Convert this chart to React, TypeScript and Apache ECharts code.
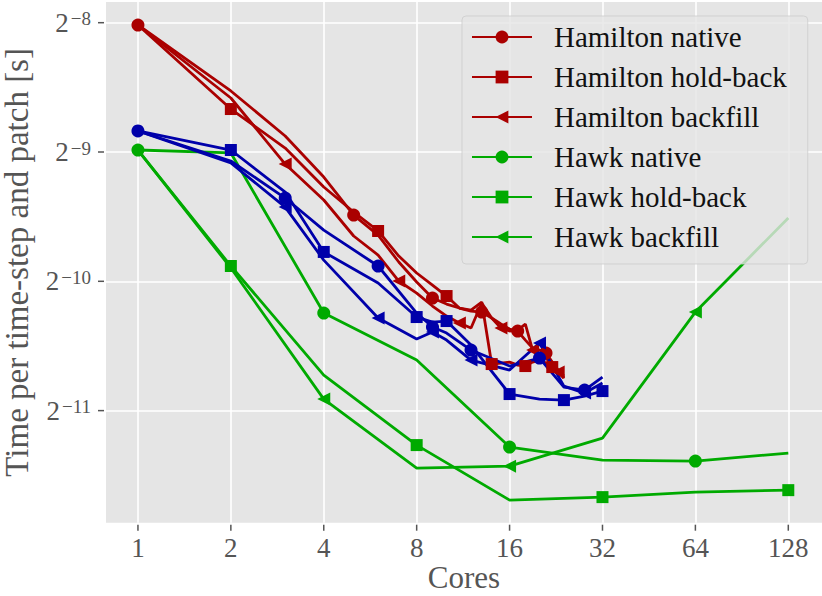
import React, { useEffect, useRef } from "react";
import * as echarts from "echarts";

// ---------- data (seconds per time-step and patch) ----------
const hamiltonCores = [1, 2, 3, 4, 5, 6, 7, 8, 9, 10, 11, 12, 13, 14, 15, 16, 17, 18, 19, 20, 21, 22, 23, 24];
const hamiltonNative = [
  0.003858, 0.002709, 0.002128, 0.001708, 0.001393, 0.001251, 0.001083, 0.0009728, 0.0008928, 0.0008645,
  0.0008462, 0.0008326, 0.0008282, 0.000802, 0.0007766, 0.000756, 0.000748, 0.0007127, 0.0006828, 0.0006755,
  0.0006648, 0.0006334, 0.0006068, 0.0005876,
];
const hamiltonHoldBack = [
  0.003858, 0.002459, 0.001995, 0.001619, 0.001416, 0.001279, 0.001118, 0.001021, 0.0009572, 0.0009024,
  0.0008462, 0.0008371, 0.0008738, 0.0006267, 0.00063, 0.0006334, 0.0006233, 0.00062, 0.0006334, 0.0006402,
  0.00063, 0.0006167, 0.0006004, 0.0005814,
];
const hamiltonBackfill = [
  0.003858, 0.002609, 0.001831, 0.00151, 0.001245, 0.001124, 0.000978, 0.000917, 0.0008553, 0.0008106,
  0.0007808, 0.0007601, 0.0008692, 0.000802, 0.0007601, 0.000748, 0.000752, 0.0007766, 0.0006755, 0.0006576,
  0.0006472, 0.0006233, 0.0006004, 0.0005814,
];

const hawkCores = [1, 2, 4, 8, 16, 32, 64, 128];
const hawkNative = [0.001974, 0.001943, 0.0008238, 0.0006402, 0.0004016, 0.0003745, 0.0003725, 0.0003888];
const hawkHoldBack = [0.001974, 0.00106, 0.0005907, 0.0004059, 0.0003022, 0.0003071, 0.0003155, 0.0003188];
const hawkBackfill = [0.001974, 0.001049, 0.0005194, 0.0003588, 0.0003626, 0.0004214, 0.0008282, 0.001371];

const thirdCores = [1, 2, 3, 4, 6, 8, 9, 10, 12, 16, 20, 24, 28, 32];
const thirdNative = [
  0.002186, 0.001861, 0.001526, 0.001285, 0.00106, 0.0008238, 0.0007642, 0.00074, 0.0006755, 0.00062,
  0.0006472, 0.000554, 0.0005451, 0.0005845,
];
const thirdHoldBack = [
  0.002186, 0.001974, 0.001576, 0.001143, 0.0009676, 0.0008063, 0.000785, 0.0007892, 0.0006938, 0.0005336,
  0.0005194, 0.0005166, 0.0005279, 0.0005422,
];
const thirdBackfill = [
  0.002186, 0.001841, 0.001454, 0.001094, 0.000802, 0.0007166, 0.000744, 0.0007127, 0.0006402, 0.0006068,
  0.0007014, 0.0005569, 0.0005364, 0.000566,
];

const xTickValues = [1, 2, 4, 8, 16, 32, 64, 128];
const xTickLabels = ["1", "2", "4", "8", "16", "32", "64", "128"];
const yTickValues = [0.00390625, 0.001953125, 0.0009765625, 0.00048828125];
const yTickExponents = ["−8", "−9", "−10", "−11"];

const legendNames = [
  "Hamilton native",
  "Hamilton hold-back",
  "Hamilton backfill",
  "Hawk native",
  "Hawk hold-back",
  "Hawk backfill",
];

// ---------- styles ----------
const FONT = "'Liberation Serif', 'Times New Roman', serif";
const RED = "#aa0000";
const GREEN = "#00aa00";
const BLUE = "#0000aa";
const TEXT_GRAY = "#555555";

function findTick(v: number, ticks: number[]): number {
  for (let i = 0; i < ticks.length; i++) {
    if (Math.abs(v / ticks[i] - 1) < 1e-5) return i;
  }
  return -1;
}

function makeSeries(
  name: string,
  cores: number[],
  values: number[],
  color: string,
  symbol: string,
  offset: number,
  step: number
) {
  const size = symbol === "rect" ? 12 : 13;
  return {
    name,
    type: "line",
    symbol,
    symbolSize: size,
    symbolRotate: symbol === "triangle" ? 90 : 0,
    showSymbol: true,
    silent: true,
    data: cores.map((c, i) => {
      const item: any = { value: [c, values[i]] };
      if (i < offset || (i - offset) % step !== 0) item.symbol = "none";
      return item;
    }),
    lineStyle: { width: 2.8, color },
    itemStyle: { color },
    emphasis: { disabled: true },
  };
}

export default function App() {
  const ref = useRef<HTMLDivElement>(null);

  useEffect(() => {
    if (!ref.current) return;
    const chart = echarts.init(ref.current, null, { renderer: "svg" });

    const option: any = {
      animation: false,
      grid: {
        left: 106,
        right: 0,
        top: 2,
        bottom: 73.3,
        show: true,
        backgroundColor: "#e5e5e5",
        borderWidth: 0,
        containLabel: false,
        outerBoundsMode: "none",
      },
      xAxis: {
        type: "log",
        logBase: 2,
        min: 0.7879,
        max: 164.6,
        name: "Cores",
        nameLocation: "middle",
        nameGap: 39,
        nameMoveOverlap: false,
        nameTextStyle: { fontFamily: FONT, fontSize: 31, color: TEXT_GRAY },
        axisLine: { show: false },
        axisTick: { show: false },
        axisLabel: {
          margin: 2,
          color: TEXT_GRAY,
          fontFamily: FONT,
          formatter: (v: number) => {
            const i = findTick(v, xTickValues);
            return i >= 0 ? "{t| }\n{v|" + xTickLabels[i] + "}" : "";
          },
          rich: {
            t: { width: 1.5, height: 6, lineHeight: 6, fontSize: 4, backgroundColor: TEXT_GRAY },
            v: { fontFamily: FONT, fontSize: 27, lineHeight: 35, color: TEXT_GRAY },
          },
        },
        splitLine: {
          show: true,
          showMinLine: false,
          showMaxLine: false,
          lineStyle: { color: "#ffffff", width: 1.6 },
        },
        minorTick: { show: false },
      },
      yAxis: {
        type: "log",
        logBase: 2,
        min: 0.00026775,
        max: 0.0043645,
        name: "Time per time-step and patch [s]",
        nameLocation: "middle",
        nameGap: 73,
        nameTextStyle: { fontFamily: FONT, fontSize: 33, color: TEXT_GRAY },
        axisLine: { show: false },
        axisTick: { show: false },
        axisLabel: {
          margin: 2,
          color: TEXT_GRAY,
          fontFamily: FONT,
          formatter: (v: number) => {
            const i = findTick(v, yTickValues);
            return i >= 0 ? "{b|2}{s|" + yTickExponents[i] + "}{g| }{t| }" : "";
          },
          rich: {
            b: { fontFamily: FONT, fontSize: 27, lineHeight: 27, color: TEXT_GRAY },
            s: {
              fontFamily: FONT,
              fontSize: 19,
              lineHeight: 12,
              verticalAlign: "top",
              color: TEXT_GRAY,
              padding: [0, 0, 0, 2],
            },
            g: { width: 7, fontSize: 4 },
            t: {
              width: 6,
              height: 1.5,
              lineHeight: 1.5,
              fontSize: 4,
              verticalAlign: "middle",
              backgroundColor: TEXT_GRAY,
            },
          },
        },
        splitLine: {
          show: true,
          showMinLine: false,
          showMaxLine: false,
          lineStyle: { color: "#ffffff", width: 1.6 },
        },
        minorTick: { show: false },
      },
      legend: {
        data: legendNames,
        orient: "vertical",
        left: 462,
        top: 16,
        itemWidth: 60,
        itemHeight: 16,
        itemGap: 10,
        padding: [6, 21, 12, 9],
        backgroundColor: "rgba(229,229,229,0.8)",
        borderColor: "rgba(204,204,204,0.8)",
        borderWidth: 1,
        borderRadius: 4,
        selectedMode: false,
        textStyle: {
          fontFamily: FONT,
          fontSize: 29,
          color: "#111111",
          lineHeight: 30,
          padding: [0, 0, 0, 17],
        },
      },
      series: [
        makeSeries("Hamilton native", hamiltonCores, hamiltonNative, RED, "circle", 0, 4),
        makeSeries("Hamilton hold-back", hamiltonCores, hamiltonHoldBack, RED, "rect", 1, 4),
        makeSeries("Hamilton backfill", hamiltonCores, hamiltonBackfill, RED, "triangle", 2, 4),
        makeSeries("Hawk native", hawkCores, hawkNative, GREEN, "circle", 0, 2),
        makeSeries("Hawk hold-back", hawkCores, hawkHoldBack, GREEN, "rect", 1, 2),
        makeSeries("Hawk backfill", hawkCores, hawkBackfill, GREEN, "triangle", 2, 2),
        makeSeries("Third native", thirdCores, thirdNative, BLUE, "circle", 0, 2),
        makeSeries("Third hold-back", thirdCores, thirdHoldBack, BLUE, "rect", 1, 2),
        makeSeries("Third backfill", thirdCores, thirdBackfill, BLUE, "triangle", 2, 2),
      ],
    };

    chart.setOption(option);
    return () => {
      chart.dispose();
    };
  }, []);

  return (
    <div
      ref={ref}
      style={{ position: "absolute", left: 0, top: 0, width: "822px", height: "596px" }}
    />
  );
}
